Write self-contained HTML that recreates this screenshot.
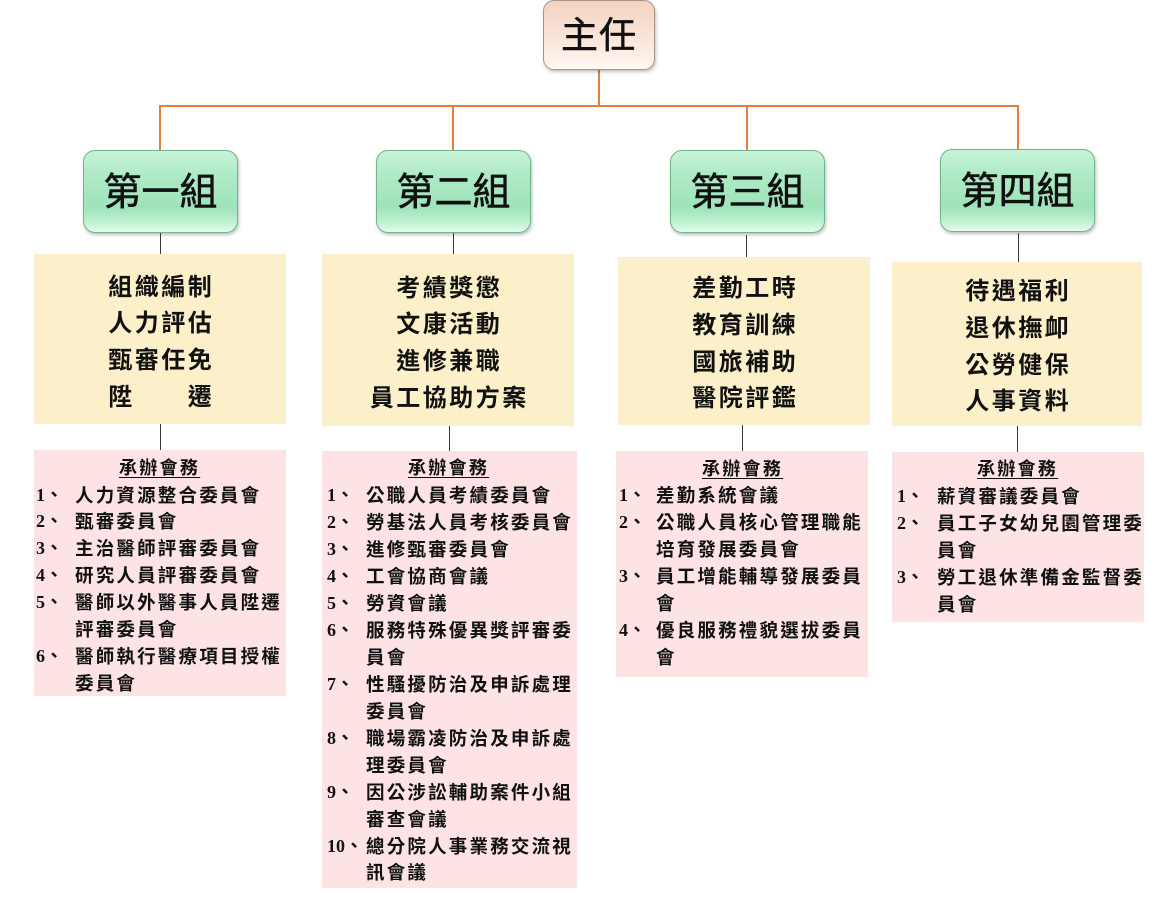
<!DOCTYPE html>
<html><head><meta charset="utf-8">
<style>
html,body{margin:0;padding:0;background:#fff;}
body{width:1167px;height:899px;position:relative;overflow:hidden;font-family:"Liberation Sans","Noto Sans CJK TC",sans-serif;}
.a{position:absolute;}
.ol{position:absolute;background:#e2803e;}
.bl{position:absolute;background:#3a3a3a;width:1.5px;}
.top{position:absolute;left:543px;top:0px;width:112px;height:70px;border:1.5px solid #a8948a;border-radius:11px;box-sizing:border-box;
 background:linear-gradient(to bottom,#f3d3bf 0%,#f8e2d4 45%,#fcefe6 80%,#fff8f3 100%);
 box-shadow:1px 2px 3px rgba(0,0,0,0.25);font-size:37px;color:#111;text-align:center;line-height:70px;letter-spacing:1px;-webkit-text-stroke:0.5px #111;}
.grp{position:absolute;top:150px;height:83px;width:155px;border:1.5px solid #6fb58c;border-radius:12px;box-sizing:border-box;
 background:linear-gradient(to bottom,#c9f3d9 0%,#aeeac6 30%,#9fe3ba 70%,#bff0d2 88%,#e4fbec 100%);
 box-shadow:1px 2px 3px rgba(0,0,0,0.25);font-size:38px;color:#111;text-align:center;line-height:84px;-webkit-text-stroke:0.6px #111;}
.yel{position:absolute;background:#fbf0c9;}
.yt{position:absolute;text-align:center;font-size:24px;font-weight:bold;line-height:36.8px;letter-spacing:2.5px;color:#111;white-space:nowrap;}
.pnk{position:absolute;background:#fde3e4;}
.hd{position:absolute;font-size:18px;font-weight:bold;letter-spacing:2.3px;text-decoration:underline;text-underline-offset:3px;white-space:nowrap;color:#111;line-height:27px;}
.ln{position:absolute;font-size:18.5px;font-weight:bold;letter-spacing:2.2px;white-space:nowrap;color:#111;line-height:27px;}
.nm{position:absolute;font-family:"Liberation Serif","Noto Sans CJK TC",serif;font-size:18px;font-weight:bold;white-space:nowrap;color:#111;line-height:27px;}
</style></head><body>

<!-- orange connectors -->
<div class="ol" style="left:598px;top:70px;width:2px;height:37px;"></div>
<div class="ol" style="left:159px;top:105px;width:860px;height:2px;"></div>
<div class="ol" style="left:159px;top:105px;width:2px;height:46px;"></div>
<div class="ol" style="left:452px;top:105px;width:2px;height:46px;"></div>
<div class="ol" style="left:746px;top:105px;width:2px;height:46px;"></div>
<div class="ol" style="left:1017px;top:105px;width:2px;height:44px;"></div>

<div class="top">主任</div>

<div class="grp" style="left:83px;">第一組</div>
<div class="grp" style="left:376px;">第二組</div>
<div class="grp" style="left:670px;">第三組</div>
<div class="grp" style="left:940px;top:149px;">第四組</div>

<!-- black connectors -->
<div class="bl" style="left:159.5px;top:233px;height:21px;"></div>
<div class="bl" style="left:452.5px;top:233px;height:21px;"></div>
<div class="bl" style="left:745.5px;top:235px;height:22px;"></div>
<div class="bl" style="left:1017.5px;top:233px;height:29px;"></div>

<div class="bl" style="left:159.5px;top:424px;height:26px;"></div>
<div class="bl" style="left:448.5px;top:426px;height:25px;"></div>
<div class="bl" style="left:741.5px;top:425px;height:26px;"></div>
<div class="bl" style="left:1016.5px;top:426px;height:26px;"></div>

<!-- yellow boxes -->
<div class="yel" style="left:34px;top:254px;width:252px;height:170px;"></div>
<div class="yt" style="left:34px;width:252px;top:269.5px;padding-left:2.5px;box-sizing:border-box;">組織編制<br>人力評估<br>甄審任免<br>陞　　遷</div>

<div class="yel" style="left:322px;top:254px;width:252px;height:172px;"></div>
<div class="yt" style="left:322px;width:252px;top:270.5px;padding-left:2.5px;box-sizing:border-box;">考績獎懲<br>文康活動<br>進修兼職<br>員工協助方案</div>

<div class="yel" style="left:618px;top:257px;width:252px;height:168px;"></div>
<div class="yt" style="left:618px;width:252px;top:271px;padding-left:2.5px;box-sizing:border-box;">差勤工時<br>教育訓練<br>國旅補助<br>醫院評鑑</div>

<div class="yel" style="left:892px;top:262px;width:250px;height:164px;"></div>
<div class="yt" style="left:892px;width:250px;top:274px;padding-left:2.5px;box-sizing:border-box;">待遇福利<br>退休撫卹<br>公勞健保<br>人事資料</div>

<!-- pink box 1 -->
<div class="pnk" style="left:34px;top:450px;width:252px;height:246px;"></div>
<div class="hd" style="left:119px;top:454.5px;">承辦會務</div>
<div class="nm" style="left:36px;top:481.5px;">1、</div><div class="ln" style="left:75px;top:481.5px;">人力資源整合委員會</div>
<div class="nm" style="left:36px;top:508.4px;">2、</div><div class="ln" style="left:75px;top:508.4px;">甄審委員會</div>
<div class="nm" style="left:36px;top:535.3px;">3、</div><div class="ln" style="left:75px;top:535.3px;">主治醫師評審委員會</div>
<div class="nm" style="left:36px;top:562.2px;">4、</div><div class="ln" style="left:75px;top:562.2px;">研究人員評審委員會</div>
<div class="nm" style="left:36px;top:589.1px;">5、</div><div class="ln" style="left:75px;top:589.1px;">醫師以外醫事人員陞遷</div>
<div class="ln" style="left:75px;top:616px;">評審委員會</div>
<div class="nm" style="left:36px;top:642.9px;">6、</div><div class="ln" style="left:75px;top:642.9px;">醫師執行醫療項目授權</div>
<div class="ln" style="left:75px;top:669.8px;">委員會</div>

<!-- pink box 2 -->
<div class="pnk" style="left:322px;top:451px;width:255px;height:437px;"></div>
<div class="hd" style="left:408px;top:455px;">承辦會務</div>
<div class="nm" style="left:327px;top:482px;">1、</div><div class="ln" style="left:366px;top:482px;">公職人員考績委員會</div>
<div class="nm" style="left:327px;top:509px;">2、</div><div class="ln" style="left:366px;top:509px;">勞基法人員考核委員會</div>
<div class="nm" style="left:327px;top:536px;">3、</div><div class="ln" style="left:366px;top:536px;">進修甄審委員會</div>
<div class="nm" style="left:327px;top:563px;">4、</div><div class="ln" style="left:366px;top:563px;">工會協商會議</div>
<div class="nm" style="left:327px;top:590px;">5、</div><div class="ln" style="left:366px;top:590px;">勞資會議</div>
<div class="nm" style="left:327px;top:617px;">6、</div><div class="ln" style="left:366px;top:617px;">服務特殊優異獎評審委</div>
<div class="ln" style="left:366px;top:644px;">員會</div>
<div class="nm" style="left:327px;top:671px;">7、</div><div class="ln" style="left:366px;top:671px;">性騷擾防治及申訴處理</div>
<div class="ln" style="left:366px;top:698px;">委員會</div>
<div class="nm" style="left:327px;top:725px;">8、</div><div class="ln" style="left:366px;top:725px;">職場霸凌防治及申訴處</div>
<div class="ln" style="left:366px;top:752px;">理委員會</div>
<div class="nm" style="left:327px;top:779px;">9、</div><div class="ln" style="left:366px;top:779px;">因公涉訟輔助案件小組</div>
<div class="ln" style="left:366px;top:806px;">審查會議</div>
<div class="nm" style="left:327px;top:832.5px;">10、</div><div class="ln" style="left:366px;top:832.5px;">總分院人事業務交流視</div>
<div class="ln" style="left:366px;top:859px;">訊會議</div>

<!-- pink box 3 -->
<div class="pnk" style="left:616px;top:451px;width:252px;height:226px;"></div>
<div class="hd" style="left:702px;top:455.5px;">承辦會務</div>
<div class="nm" style="left:619px;top:482px;">1、</div><div class="ln" style="left:656px;top:482px;">差勤系統會議</div>
<div class="nm" style="left:619px;top:509px;">2、</div><div class="ln" style="left:656px;top:509px;">公職人員核心管理職能</div>
<div class="ln" style="left:656px;top:536px;">培育發展委員會</div>
<div class="nm" style="left:619px;top:563px;">3、</div><div class="ln" style="left:656px;top:563px;">員工增能輔導發展委員</div>
<div class="ln" style="left:656px;top:590px;">會</div>
<div class="nm" style="left:619px;top:617px;">4、</div><div class="ln" style="left:656px;top:617px;">優良服務禮貌選拔委員</div>
<div class="ln" style="left:656px;top:644px;">會</div>

<!-- pink box 4 -->
<div class="pnk" style="left:892px;top:452px;width:252px;height:170px;"></div>
<div class="hd" style="left:977px;top:456px;">承辦會務</div>
<div class="nm" style="left:897px;top:483px;">1、</div><div class="ln" style="left:937px;top:483px;">薪資審議委員會</div>
<div class="nm" style="left:897px;top:510px;">2、</div><div class="ln" style="left:937px;top:510px;">員工子女幼兒園管理委</div>
<div class="ln" style="left:937px;top:537px;">員會</div>
<div class="nm" style="left:897px;top:564px;">3、</div><div class="ln" style="left:937px;top:564px;">勞工退休準備金監督委</div>
<div class="ln" style="left:937px;top:591px;">員會</div>

</body></html>
